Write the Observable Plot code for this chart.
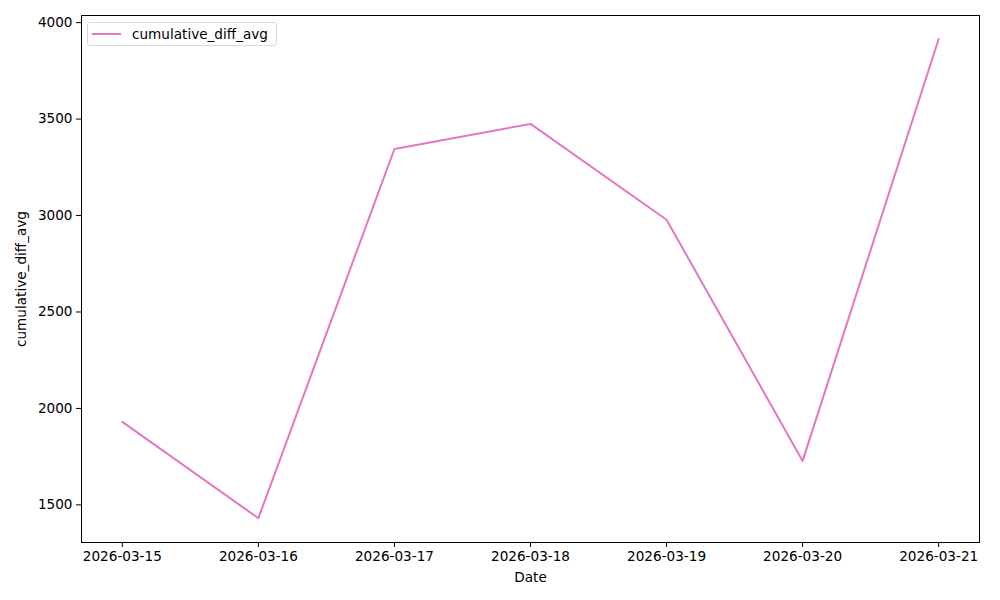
<!DOCTYPE html>
<html>
<head>
<meta charset="utf-8">
<script src="https://cdn.jsdelivr.net/npm/d3@7"></script>
<script src="https://cdn.jsdelivr.net/npm/@observablehq/plot@0.6"></script>
<style>
  html, body { margin: 0; padding: 0; background: #fff; }
  #wrap { position: relative; width: 1000px; height: 600px; font-family: "DejaVu Sans", sans-serif; }
  #legend {
    position: absolute; left: 87px; top: 22px; height: 24px;
    border: 1px solid #d9d9d9; border-radius: 3px; background: rgba(255,255,255,0.8);
    display: flex; align-items: center; padding: 0 8px 0 4px; font-size: 13.6px; color: #000;
    box-sizing: border-box;
  }
  #legend .sw { width: 29px; height: 2px; background: #e377c2; margin-right: 11px; }
</style>
</head>
<body>
<div id="wrap"></div>
<script>
const dates = ["2026-03-15","2026-03-16","2026-03-17","2026-03-18","2026-03-19","2026-03-20","2026-03-21"];
const values = [1930, 1431, 3345, 3475, 2978, 1728, 3915];
const yTicks = [1500, 2000, 2500, 3000, 3500, 4000];
const seriesName = "cumulative_diff_avg";

const data = dates.map((d, i) => ({date: new Date(d + "T00:00:00Z"), value: values[i]}));
const dayMs = 86400000;
const x0 = new Date(data[0].date.getTime() - 0.3 * dayMs);
const x1 = new Date(data[data.length - 1].date.getTime() + 0.3 * dayMs);

const chart = Plot.plot({
  width: 1000,
  height: 600,
  marginLeft: 81,
  marginRight: 21,
  marginTop: 15,
  marginBottom: 58,
  style: {fontFamily: "DejaVu Sans, sans-serif", fontSize: "13.6px", color: "#000", background: "#fff"},
  x: {type: "utc", domain: [x0, x1]},
  y: {domain: [1305, 4037]},
  marks: [
    Plot.frame({stroke: "#000", strokeWidth: 1}),
    Plot.axisX({
      ticks: data.map(d => d.date), tickFormat: d3.utcFormat("%Y-%m-%d"),
      tickSize: 5, tickPadding: 4, label: "Date", labelAnchor: "center", labelArrow: "none", labelOffset: 39,
      fontSize: 13.6
    }),
    Plot.axisY({
      ticks: yTicks, tickFormat: d => String(d), tickSize: 5, tickPadding: 4,
      label: seriesName, labelAnchor: "center", labelArrow: "none", labelOffset: 65, fontSize: 13.6
    }),
    Plot.line(data, {x: "date", y: "value", stroke: "#e377c2", strokeWidth: 2})
  ]
});

const wrap = document.getElementById("wrap");
wrap.appendChild(chart);
const lg = document.createElement("div");
lg.id = "legend";
lg.innerHTML = '<div class="sw"></div><span>' + seriesName + '</span>';
wrap.appendChild(lg);
</script>
</body>
</html>
